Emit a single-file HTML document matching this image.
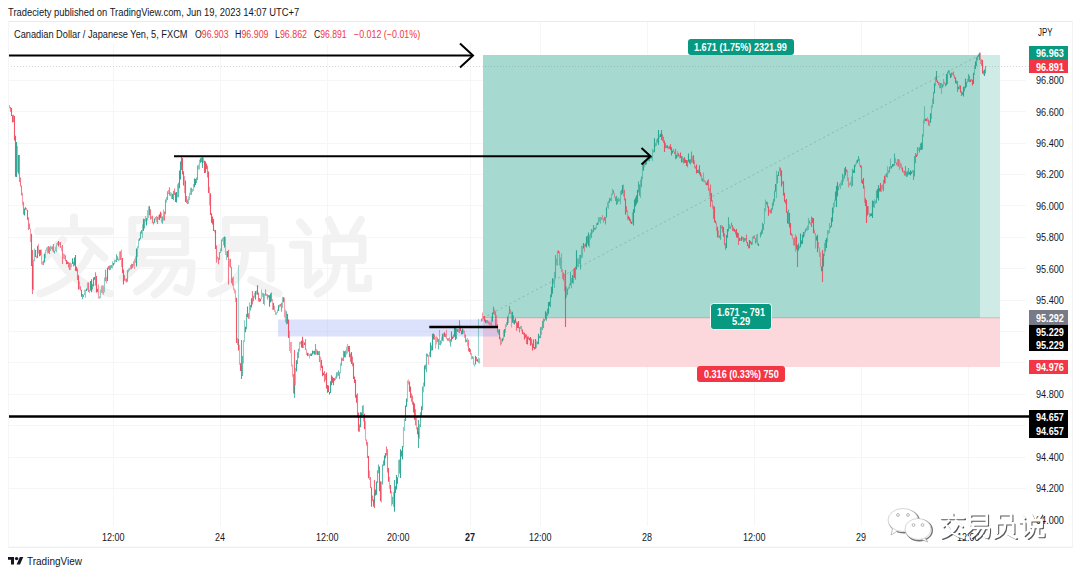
<!DOCTYPE html><html><head><meta charset="utf-8"><title>CADJPY</title><style>
*{margin:0;padding:0;box-sizing:border-box}
html,body{width:1080px;height:575px;background:#fff;overflow:hidden}
body{position:relative;font-family:"Liberation Sans",sans-serif;color:#131722}
.t{position:absolute;white-space:nowrap;line-height:1;transform-origin:0 0}
</style></head><body>
<svg width="1080" height="575" viewBox="0 0 1080 575" style="position:absolute;left:0;top:0"><path d="M113.5 44V526" stroke="#f5f6f8" stroke-width="1"/><path d="M220.5 44V526" stroke="#f5f6f8" stroke-width="1"/><path d="M327.5 44V526" stroke="#f5f6f8" stroke-width="1"/><path d="M470.5 44V526" stroke="#f5f6f8" stroke-width="1"/><path d="M540.5 22V526" stroke="#f5f6f8" stroke-width="1"/><path d="M647.5 22V526" stroke="#f5f6f8" stroke-width="1"/><path d="M754.5 22V526" stroke="#f5f6f8" stroke-width="1"/><path d="M861.5 22V526" stroke="#f5f6f8" stroke-width="1"/><path d="M968.5 22V526" stroke="#f5f6f8" stroke-width="1"/><path d="M9 80.5H1026" stroke="#f5f6f8" stroke-width="1"/><path d="M9 111.5H1026" stroke="#f5f6f8" stroke-width="1"/><path d="M9 143.5H1026" stroke="#f5f6f8" stroke-width="1"/><path d="M9 174.5H1026" stroke="#f5f6f8" stroke-width="1"/><path d="M9 205.5H1026" stroke="#f5f6f8" stroke-width="1"/><path d="M9 237.5H1026" stroke="#f5f6f8" stroke-width="1"/><path d="M9 268.5H1026" stroke="#f5f6f8" stroke-width="1"/><path d="M9 300.5H1026" stroke="#f5f6f8" stroke-width="1"/><path d="M9 331.5H1026" stroke="#f5f6f8" stroke-width="1"/><path d="M9 362.5H1026" stroke="#f5f6f8" stroke-width="1"/><path d="M9 394.5H1026" stroke="#f5f6f8" stroke-width="1"/><path d="M9 425.5H1026" stroke="#f5f6f8" stroke-width="1"/><path d="M9 457.5H1026" stroke="#f5f6f8" stroke-width="1"/><path d="M9 488.5H1026" stroke="#f5f6f8" stroke-width="1"/><path transform="translate(34.0 216.0) scale(0.8000)" d="M50 2V15 M5 19H95 M36 30L14 52 M64 30L88 52 M70 46C60 70 35 88 8 97 M28 50C40 72 65 90 95 97" fill="none" stroke="#f2f2f2" stroke-width="10.00" stroke-linecap="round" stroke-linejoin="round" /><path transform="translate(119.5 216.0) scale(0.8000)" d="M16 5H82V45H16Z M16 25H82 M30 48C24 60 15 70 4 77 M24 59H90C90 75 88 90 84 95L72 90 M52 59C46 74 36 86 22 94 M72 59C66 76 56 90 44 98" fill="none" stroke="#f2f2f2" stroke-width="10.00" stroke-linecap="round" stroke-linejoin="round" /><path transform="translate(205.0 216.0) scale(0.8000)" d="M26 5H74V30H26Z M18 40H82V78 M18 40V78 M50 47C50 62 45 85 8 97 M58 80L92 97" fill="none" stroke="#f2f2f2" stroke-width="10.00" stroke-linecap="round" stroke-linejoin="round" /><path transform="translate(290.5 216.0) scale(0.8000)" d="M12 8L22 20 M3 36H22V86L36 72 M48 5L56 22 M88 5L78 22 M45 28H90V55H45Z M58 55C58 75 52 88 34 97 M76 55V90H97V78" fill="none" stroke="#f2f2f2" stroke-width="10.00" stroke-linecap="round" stroke-linejoin="round" /><rect x="483" y="55" width="497" height="263" fill="#a6dad0"/><rect x="980" y="55" width="20" height="263" fill="#cfebe6"/><rect x="483" y="318" width="517" height="49" fill="#fcd7dc"/><path d="M483 317.8H1000" stroke="#808080" stroke-opacity="0.35" stroke-width="1"/><rect x="278" y="319.5" width="220" height="17" fill="#5f78f0" fill-opacity="0.21"/><path d="M8 66.5H1029" stroke="#7a7a7a" stroke-opacity="0.3" stroke-width="1" stroke-dasharray="1 2"/><path d="M483 318L979.5 55" stroke="#8fb5ae" stroke-width="1" stroke-dasharray="2 3"/><path d="M8.5 103.7V106.2M9.5 105.1V108.3M17.5 146.1V172.3M22.5 192.8V205.2M26.5 208.1V210.6M30.5 228.6V241.9M36.5 255.7V258.5M38.5 243.7V253.4M41.5 249.6V264.4M42.5 261.4V264.8M47.5 246.8V253.4M51.5 246.4V248.9M61.5 246.4V251.2M64.5 254.0V259.2M70.5 262.5V269.7M79.5 281.5V289.6M98.5 284.3V298.4M102.5 285.3V293.4M106.5 276.8V283.5M115.5 259.8V262.3M121.5 249.5V266.9M130.5 264.9V269.2M134.5 258.8V269.1M145.5 215.9V221.4M156.5 216.0V222.1M158.5 215.2V219.5M161.5 213.2V222.5M168.5 190.0V194.0M171.5 192.7V198.9M184.5 176.1V193.2M203.5 157.4V162.7M209.5 187.1V205.5M214.5 229.6V232.4M223.5 237.0V245.1M225.5 237.0V255.0M229.5 259.1V266.8M233.5 276.5V290.3M234.5 288.5V293.3M235.5 290.0V302.0M237.5 337.7V345.1M239.5 344.8V364.7M266.5 293.5V296.3M272.5 299.1V310.0M274.5 305.7V311.7M275.5 310.4V315.0M284.5 297.8V317.6M285.5 309.6V322.3M289.5 330.7V351.1M290.5 342.1V353.1M291.5 341.9V366.4M292.5 364.6V376.7M300.5 341.8V344.3M306.5 349.2V355.0M308.5 352.7V356.1M309.5 354.1V358.6M316.5 349.0V354.5M320.5 356.8V370.7M337.5 371.9V376.4M363.5 405.1V421.4M365.5 421.2V440.4M369.5 470.4V480.1M389.5 477.1V488.7M391.5 491.3V506.1M393.5 492.2V507.0M408.5 379.4V384.5M416.5 417.3V429.6M428.5 354.9V364.8M435.5 337.1V348.5M436.5 336.3V344.6M439.5 329.9V345.1M446.5 329.8V339.3M449.5 336.8V342.6M458.5 329.0V332.4M464.5 330.4V337.8M467.5 337.9V346.5M471.5 353.1V359.4M473.5 356.8V364.7M482.5 312.6V320.7M488.5 320.9V324.2M489.5 321.8V325.4M490.5 322.6V325.1M494.5 308.9V315.1M496.5 315.1V326.8M500.5 337.2V345.4M510.5 309.2V314.1M511.5 311.4V327.5M521.5 326.0V331.3M559.5 251.4V265.4M561.5 253.5V272.1M562.5 269.3V279.1M564.5 274.1V291.1M571.5 277.9V288.3M577.5 258.3V266.7M579.5 255.1V264.0M584.5 244.6V251.7M599.5 217.3V221.8M601.5 217.2V220.0M602.5 215.1V219.6M614.5 193.0V197.6M619.5 198.8V201.3M623.5 184.6V196.6M627.5 210.2V220.2M647.5 156.0V161.5M659.5 135.2V137.7M668.5 146.7V149.2M673.5 149.0V152.0M692.5 155.9V162.8M694.5 160.3V167.8M701.5 174.4V180.8M703.5 172.6V181.9M704.5 179.7V182.2M705.5 180.9V184.7M709.5 187.9V196.2M712.5 199.9V208.7M716.5 222.6V231.0M718.5 230.5V237.5M721.5 225.4V228.7M729.5 224.2V228.7M740.5 238.2V240.7M742.5 236.8V239.7M754.5 235.1V238.9M757.5 233.8V245.2M769.5 209.4V211.9M782.5 181.2V184.2M792.5 234.3V239.3M793.5 238.2V245.6M797.5 249.1V251.6M807.5 225.5V230.6M810.5 222.6V225.1M814.5 229.8V233.8M815.5 232.9V248.6M818.5 241.9V248.3M819.5 247.6V257.1M820.5 252.2V266.7M843.5 175.3V181.5M847.5 170.3V180.9M848.5 177.6V187.6M849.5 182.9V185.4M859.5 158.5V165.4M864.5 186.3V202.8M868.5 206.1V213.8M869.5 213.3V217.0M882.5 184.4V189.4M895.5 158.1V163.1M899.5 159.8V170.0M900.5 162.5V168.1M901.5 163.7V169.6M903.5 170.8V173.3M927.5 117.2V121.5M939.5 82.4V88.4M941.5 83.1V93.9M944.5 81.8V84.3M949.5 70.2V75.2M952.5 72.6V75.1M980.5 52.5V63.9" stroke="#ef4056" stroke-width="1.1" fill="none" opacity="0.5"/><path d="M10.5 107.0V111.8M19.5 155.1V182.0M20.5 177.5V186.4M21.5 185.6V195.4M23.5 201.8V214.5M28.5 217.5V230.0M29.5 223.6V229.1M32.5 264.7V294.0M48.5 245.9V253.0M52.5 246.5V250.8M53.5 243.9V252.2M60.5 242.1V247.8M62.5 244.9V263.9M65.5 255.2V261.3M68.5 262.1V267.5M73.5 261.8V266.6M77.5 268.5V279.9M80.5 286.2V290.5M88.5 282.5V292.1M95.5 272.3V285.5M108.5 265.9V269.3M111.5 265.0V267.7M117.5 256.2V260.0M120.5 251.3V260.0M124.5 275.0V280.8M126.5 278.6V282.5M132.5 263.9V267.9M150.5 209.2V219.5M152.5 215.7V223.1M164.5 211.5V220.6M169.5 187.2V195.6M174.5 188.5V195.1M186.5 195.9V203.0M187.5 199.5V204.0M191.5 187.7V194.7M201.5 157.5V162.1M207.5 165.8V177.4M216.5 245.5V262.4M218.5 257.7V264.2M228.5 249.8V284.6M230.5 258.8V267.8M231.5 266.7V283.2M232.5 277.8V285.4M248.5 313.2V318.7M252.5 290.9V304.4M258.5 292.5V301.4M263.5 293.2V304.1M267.5 294.2V299.4M271.5 292.6V301.6M280.5 304.1V306.6M293.5 374.0V393.3M305.5 339.1V350.0M313.5 351.0V353.5M319.5 351.1V362.1M324.5 371.0V382.3M342.5 358.2V360.7M345.5 350.4V357.6M350.5 353.4V361.8M352.5 356.6V366.2M357.5 393.2V417.4M366.5 439.6V445.5M367.5 442.1V458.0M370.5 476.9V488.0M372.5 495.4V501.1M386.5 446.6V455.6M387.5 449.3V472.5M399.5 459.6V473.5M411.5 393.4V401.8M412.5 395.6V404.7M415.5 409.3V425.3M425.5 364.6V369.4M427.5 353.7V356.7M431.5 345.4V350.7M434.5 334.5V339.8M437.5 337.5V342.0M448.5 338.3V340.8M465.5 334.5V342.2M468.5 339.8V351.3M470.5 349.2V354.6M476.5 356.9V360.9M487.5 320.2V322.7M495.5 311.2V326.5M497.5 324.3V332.3M513.5 315.6V323.5M516.5 321.5V330.8M519.5 327.0V332.5M526.5 334.3V344.0M528.5 336.4V339.4M531.5 338.7V344.7M537.5 341.7V344.3M539.5 335.8V338.3M563.5 272.5V280.4M587.5 235.8V243.8M604.5 216.8V220.8M613.5 190.3V193.4M615.5 196.7V200.9M617.5 198.4V203.9M624.5 189.7V200.4M626.5 206.3V212.3M630.5 218.9V223.3M639.5 184.4V195.8M657.5 138.2V142.4M662.5 134.4V141.0M663.5 136.8V143.0M665.5 142.9V148.3M674.5 151.4V153.9M675.5 148.7V159.3M695.5 166.3V168.8M708.5 179.3V190.7M710.5 184.4V206.9M713.5 205.4V219.1M722.5 225.5V232.5M724.5 233.3V245.2M725.5 243.2V249.7M732.5 225.1V230.9M733.5 227.3V231.3M735.5 229.9V234.3M738.5 233.1V245.1M743.5 237.3V242.3M745.5 238.0V240.5M746.5 234.4V242.8M748.5 244.8V248.4M755.5 238.2V243.5M767.5 201.8V207.6M770.5 209.7V213.6M780.5 167.7V176.2M785.5 200.1V203.8M791.5 232.9V236.0M794.5 237.7V245.4M809.5 220.6V223.6M846.5 169.2V172.3M861.5 165.8V183.1M873.5 201.0V207.2M893.5 164.1V166.6M896.5 162.6V165.1M898.5 158.9V166.4M904.5 170.8V175.6M905.5 166.1V175.8M907.5 171.3V176.4M913.5 170.2V180.0M928.5 119.5V125.5M936.5 75.8V81.8M938.5 82.1V85.3M945.5 83.2V86.5M953.5 71.6V75.8M954.5 75.3V78.8M957.5 80.9V92.0M961.5 91.2V96.0M969.5 75.7V82.3M981.5 59.2V65.7M983.5 70.4V74.4" stroke="#ef4056" stroke-width="1.1" fill="none" opacity="0.7"/><path d="M32.5 250.0V289.0M294.5 350.0V394.0M797.5 245.0V267.0M822.5 250.0V282.0M374.5 480.0V508.0" stroke="#ef4056" stroke-width="1.1" fill="none" opacity="0.8"/><path d="M565.5 270.0V327.0" stroke="#ef4056" stroke-width="1.1" fill="none" opacity="0.85"/><path d="M11.5 108.0V116.1M12.5 115.3V122.5M14.5 116.1V140.5M15.5 135.8V176.7M27.5 209.9V219.7M31.5 233.8V266.0M35.5 250.1V256.9M40.5 249.7V255.4M58.5 241.1V246.5M66.5 260.0V264.2M75.5 254.9V270.8M76.5 266.8V271.3M78.5 275.2V289.5M81.5 289.7V296.7M91.5 279.3V292.3M96.5 275.9V292.6M113.5 262.9V265.4M122.5 258.1V272.9M123.5 269.6V284.4M149.5 206.2V215.2M160.5 211.7V217.9M175.5 192.5V202.0M182.5 158.0V174.5M183.5 171.2V185.4M185.5 180.4V201.9M195.5 179.0V184.9M204.5 160.7V173.0M206.5 163.4V168.9M208.5 171.6V193.0M210.5 193.3V215.0M211.5 213.2V222.8M212.5 216.4V224.5M213.5 218.9V231.1M215.5 230.1V248.9M236.5 297.8V342.9M238.5 339.0V350.5M240.5 363.2V370.9M245.5 326.8V332.2M255.5 290.9V299.6M257.5 285.3V294.8M260.5 298.7V301.2M269.5 295.2V306.7M283.5 297.3V302.3M287.5 314.0V323.8M288.5 319.5V338.1M302.5 336.8V348.0M304.5 342.6V345.1M311.5 353.5V356.0M317.5 350.4V354.9M321.5 359.7V368.1M322.5 365.8V376.2M326.5 372.4V388.4M328.5 385.6V392.1M329.5 392.0V394.5M332.5 376.7V382.8M334.5 378.2V380.7M348.5 346.1V351.5M349.5 345.9V357.3M353.5 362.8V378.9M354.5 376.4V383.1M355.5 379.4V397.8M356.5 394.7V402.8M358.5 412.4V431.5M361.5 412.5V417.9M364.5 413.8V429.2M368.5 456.1V478.3M371.5 487.3V506.8M373.5 499.5V506.4M375.5 489.4V495.4M379.5 466.6V491.2M380.5 481.2V501.2M388.5 468.0V481.7M390.5 485.0V493.2M409.5 381.5V391.8M410.5 386.4V397.9M413.5 401.8V412.6M414.5 403.6V419.7M417.5 427.2V434.3M418.5 431.7V437.2M444.5 332.3V336.8M452.5 336.5V339.0M455.5 326.8V339.9M460.5 325.7V331.1M461.5 330.5V334.4M469.5 348.0V351.9M477.5 359.3V361.8M484.5 315.9V321.5M499.5 329.3V339.3M515.5 318.2V322.8M518.5 321.1V328.3M522.5 329.5V334.1M524.5 332.8V339.6M525.5 334.6V337.8M530.5 337.1V345.7M532.5 343.5V350.5M533.5 339.5V348.1M534.5 347.0V349.5M549.5 301.7V306.0M558.5 250.4V253.2M565.5 286.6V299.0M574.5 267.9V278.1M585.5 243.4V246.6M625.5 198.5V214.8M628.5 215.7V219.2M629.5 217.3V220.9M631.5 221.6V224.1M645.5 160.3V164.9M651.5 156.0V158.5M661.5 133.5V136.0M664.5 140.5V151.9M667.5 145.2V148.2M669.5 146.3V148.8M670.5 144.2V150.1M671.5 147.2V155.5M678.5 153.2V156.2M680.5 152.5V158.0M681.5 156.3V162.5M684.5 157.3V162.7M686.5 160.0V166.1M689.5 159.5V163.3M693.5 155.2V164.1M696.5 164.5V173.5M697.5 169.9V172.9M699.5 165.3V174.4M700.5 172.2V176.5M706.5 182.7V185.2M711.5 192.9V201.6M714.5 206.8V222.2M715.5 220.4V223.2M717.5 226.8V237.4M723.5 226.9V236.7M734.5 228.7V231.7M736.5 229.0V237.5M747.5 242.1V246.1M750.5 240.9V243.4M751.5 242.3V244.8M768.5 206.2V215.8M781.5 170.2V186.6M783.5 181.2V195.5M784.5 192.8V201.9M786.5 198.9V212.8M787.5 211.7V223.4M789.5 213.1V227.6M790.5 223.0V234.8M796.5 236.4V249.6M801.5 240.6V244.3M812.5 217.7V223.1M813.5 217.9V233.3M817.5 234.7V252.3M821.5 266.6V271.2M837.5 181.9V196.4M845.5 166.8V175.6M860.5 165.1V167.6M862.5 179.7V184.0M863.5 178.0V188.6M865.5 198.2V206.1M866.5 200.0V223.0M877.5 188.9V198.1M880.5 183.1V191.4M884.5 175.8V183.5M902.5 167.5V171.7M909.5 172.1V174.6M916.5 154.6V157.1M925.5 118.5V121.0M926.5 118.7V121.2M937.5 80.4V82.9M955.5 77.2V83.3M960.5 85.6V92.4M970.5 79.6V82.1M972.5 79.7V85.5M982.5 59.9V73.4" stroke="#ef4056" stroke-width="1.1" fill="none" opacity="0.9"/><path d="M238.5 265.0V345.0" stroke="#1f9e8a" stroke-width="1.1" fill="none" opacity="0.4"/><path d="M478.5 319.0V356.0" stroke="#1f9e8a" stroke-width="1.1" fill="none" opacity="0.45"/><path d="M33.5 259.4V290.0M34.5 248.4V261.4M45.5 250.0V258.3M46.5 247.6V250.8M50.5 245.5V251.0M55.5 246.8V251.1M56.5 243.3V252.3M57.5 242.2V244.7M59.5 242.2V244.7M63.5 253.6V258.8M71.5 263.4V267.2M84.5 289.6V295.0M85.5 289.7V297.7M87.5 282.6V290.3M89.5 289.7V293.3M99.5 296.3V298.8M100.5 289.7V297.9M101.5 285.4V292.8M103.5 285.5V294.7M104.5 277.5V292.3M112.5 261.3V268.5M114.5 259.5V264.2M118.5 258.6V261.1M119.5 251.5V260.5M125.5 278.9V281.4M128.5 268.6V272.3M129.5 268.0V270.8M133.5 260.9V266.3M135.5 256.2V262.7M137.5 246.2V256.9M138.5 239.4V248.2M142.5 224.3V238.1M147.5 210.0V220.5M148.5 206.3V217.7M151.5 216.2V218.9M155.5 217.1V219.6M163.5 209.5V220.7M166.5 196.9V202.4M170.5 192.2V196.2M177.5 184.3V197.4M181.5 159.1V164.5M188.5 196.6V204.0M189.5 192.7V200.0M190.5 187.8V195.1M192.5 189.0V192.1M193.5 184.1V190.9M198.5 164.6V169.6M199.5 159.7V169.4M217.5 256.6V259.1M220.5 248.4V252.9M222.5 237.9V241.2M226.5 251.5V260.3M241.5 366.1V370.9M243.5 340.3V363.4M244.5 320.2V342.0M249.5 302.3V318.8M254.5 292.7V297.4M256.5 290.4V294.6M261.5 289.4V299.3M262.5 292.6V296.7M264.5 293.8V305.4M276.5 312.2V314.7M277.5 309.5V313.0M279.5 304.2V307.4M282.5 296.7V308.1M295.5 367.9V385.2M299.5 341.7V351.4M303.5 340.7V348.0M335.5 376.6V380.0M340.5 363.3V373.3M346.5 346.7V354.6M347.5 344.0V353.5M381.5 481.6V502.6M398.5 460.0V477.5M403.5 427.1V447.3M404.5 418.8V430.9M407.5 380.5V402.0M419.5 424.2V438.8M423.5 382.5V392.3M429.5 351.7V356.5M441.5 336.8V343.7M443.5 333.1V341.6M463.5 329.5V333.5M474.5 363.7V366.4M478.5 357.6V363.3M479.5 358.2V363.6M483.5 316.2V319.6M486.5 320.1V323.4M491.5 316.5V326.3M501.5 339.1V344.3M503.5 330.3V340.2M505.5 324.3V332.8M506.5 321.9V326.9M508.5 313.6V322.9M520.5 325.9V329.0M536.5 340.8V348.1M541.5 326.7V334.7M553.5 278.7V283.7M554.5 272.0V288.1M556.5 258.6V264.9M557.5 250.8V265.7M560.5 257.5V269.0M566.5 286.5V297.3M568.5 286.8V289.6M569.5 283.6V288.4M573.5 268.4V284.1M578.5 258.5V267.1M581.5 245.5V258.4M582.5 246.2V257.4M589.5 234.9V247.7M590.5 232.6V239.6M592.5 229.8V233.3M595.5 227.4V229.9M596.5 223.2V228.5M598.5 217.3V224.4M600.5 217.0V223.7M603.5 217.9V222.8M607.5 202.2V207.4M608.5 200.8V208.8M611.5 193.4V201.6M612.5 188.8V195.0M618.5 197.6V201.9M620.5 191.0V204.6M632.5 212.2V223.4M640.5 179.6V198.0M642.5 165.3V179.3M644.5 160.1V167.3M648.5 154.1V161.3M652.5 149.0V161.1M653.5 149.9V152.4M655.5 142.9V146.4M656.5 139.6V146.0M677.5 151.3V157.2M679.5 154.8V158.3M682.5 155.9V162.3M752.5 236.8V244.7M756.5 234.6V242.8M764.5 208.1V224.1M765.5 199.4V211.4M776.5 170.8V197.9M779.5 166.9V171.8M795.5 234.1V251.8M799.5 246.1V248.6M804.5 231.3V236.2M806.5 227.6V230.8M808.5 217.8V229.8M822.5 257.4V271.1M824.5 243.1V256.0M827.5 230.1V242.0M828.5 230.3V234.3M829.5 223.0V232.9M833.5 202.8V213.3M834.5 199.7V207.6M839.5 183.7V186.7M840.5 182.6V188.9M841.5 180.1V185.8M850.5 181.4V185.0M851.5 176.4V187.2M855.5 163.6V167.1M856.5 160.2V164.5M874.5 199.3V207.9M875.5 200.6V204.0M881.5 185.0V192.0M885.5 174.3V183.6M887.5 166.3V177.8M888.5 170.3V173.7M890.5 158.6V168.7M897.5 159.3V166.8M912.5 170.0V172.5M918.5 148.3V150.8M923.5 119.6V136.5M924.5 106.2V123.5M929.5 120.6V126.3M931.5 104.9V118.9M932.5 98.5V108.1M935.5 76.6V85.9M943.5 78.9V86.5M959.5 85.1V89.2M967.5 79.0V82.8M971.5 78.7V81.2M974.5 65.4V75.0M979.5 52.5V55.9" stroke="#1f9e8a" stroke-width="1.1" fill="none" opacity="0.5"/><path d="M13.5 114.7V122.0M43.5 260.8V265.0M49.5 246.8V253.9M54.5 250.7V253.5M69.5 262.8V269.9M82.5 294.0V299.2M83.5 294.5V297.0M92.5 284.2V289.5M105.5 269.4V281.3M109.5 265.5V270.2M110.5 265.6V269.7M116.5 254.3V262.1M127.5 270.3V281.7M131.5 263.7V269.3M140.5 231.6V239.2M141.5 230.1V233.7M144.5 219.0V228.5M153.5 222.0V224.5M157.5 217.0V223.9M162.5 216.6V223.8M165.5 199.4V214.2M167.5 191.3V200.1M173.5 191.1V200.2M178.5 182.7V197.3M196.5 177.4V183.0M197.5 165.4V180.1M202.5 158.3V162.9M219.5 252.0V260.0M221.5 239.4V251.3M242.5 356.0V376.0M246.5 314.1V329.2M250.5 305.0V310.6M253.5 295.8V301.3M259.5 298.0V301.9M265.5 289.5V295.7M268.5 294.9V297.6M281.5 302.8V311.7M286.5 311.3V324.2M294.5 384.8V398.1M297.5 352.3V364.1M298.5 348.7V357.9M310.5 353.5V356.0M315.5 344.0V355.1M318.5 351.3V355.1M325.5 374.0V380.2M336.5 372.6V378.5M338.5 370.5V375.7M339.5 372.2V379.1M341.5 357.4V365.7M343.5 350.7V361.1M359.5 424.5V431.8M362.5 405.8V415.9M374.5 492.7V502.4M377.5 470.2V482.9M378.5 464.6V473.2M382.5 464.5V484.4M383.5 460.4V466.0M392.5 496.7V504.3M420.5 412.3V427.1M422.5 386.5V410.1M426.5 353.6V372.2M438.5 339.1V349.2M440.5 340.6V345.3M445.5 333.8V337.2M447.5 338.3V340.8M450.5 339.2V346.6M453.5 334.6V338.0M456.5 328.5V338.9M459.5 320.3V333.2M466.5 339.4V342.1M472.5 356.3V358.8M481.5 318.5V321.6M493.5 306.4V313.9M498.5 329.4V334.6M509.5 306.1V314.0M523.5 332.2V334.7M540.5 327.2V338.3M542.5 320.7V329.9M543.5 318.5V327.9M544.5 319.1V321.6M546.5 312.6V320.7M547.5 308.7V316.1M550.5 294.4V307.3M555.5 255.1V278.4M567.5 288.6V294.9M570.5 271.7V285.4M575.5 266.5V279.7M580.5 254.7V269.4M591.5 228.9V237.7M593.5 224.9V231.9M594.5 227.4V229.9M605.5 217.0V224.4M609.5 197.8V203.0M610.5 198.2V200.7M616.5 195.7V204.9M621.5 189.8V195.0M638.5 181.6V192.6M641.5 176.5V187.2M646.5 158.6V164.6M649.5 157.2V161.3M650.5 156.2V158.7M666.5 145.4V147.9M683.5 158.3V163.4M687.5 160.2V167.3M690.5 159.2V164.6M691.5 151.6V162.4M698.5 169.4V173.0M702.5 178.2V181.4M719.5 235.5V238.1M720.5 225.0V239.7M728.5 217.3V231.6M730.5 226.3V228.8M731.5 222.6V226.5M744.5 237.9V241.4M753.5 235.9V238.4M760.5 232.2V237.5M761.5 229.7V234.9M762.5 222.7V233.5M763.5 224.0V229.9M766.5 201.7V204.7M771.5 208.1V213.2M772.5 202.5V209.7M773.5 199.0V205.7M774.5 190.7V201.7M777.5 174.9V183.5M788.5 209.5V223.9M805.5 228.8V232.5M811.5 216.4V227.0M825.5 240.0V251.4M830.5 225.8V228.3M838.5 186.4V190.3M842.5 173.7V184.9M844.5 168.2V178.4M852.5 168.7V186.1M858.5 156.1V160.9M876.5 190.6V202.9M883.5 180.0V191.3M886.5 173.0V177.0M889.5 166.5V172.5M894.5 153.6V165.7M906.5 171.4V177.0M908.5 168.1V174.8M914.5 155.9V176.5M915.5 153.1V163.3M917.5 147.1V155.8M919.5 147.1V152.6M920.5 143.6V150.1M922.5 134.3V149.3M933.5 91.9V104.0M940.5 83.0V87.9M942.5 84.3V87.7M947.5 72.3V84.0M948.5 70.2V73.3M951.5 72.4V77.3M956.5 80.4V83.9M964.5 86.6V91.6M966.5 82.0V87.1M968.5 74.1V81.4M976.5 57.2V65.9M977.5 55.8V60.5M978.5 54.3V57.1M985.5 66.1V73.5" stroke="#1f9e8a" stroke-width="1.1" fill="none" opacity="0.7"/><path d="M241.5 340.0V379.0M418.5 420.0V448.0M394.5 480.0V506.0M661.5 130.0V140.0M979.5 53.0V60.0M936.5 71.0V80.0M181.5 157.0V170.0M202.5 157.0V168.0" stroke="#1f9e8a" stroke-width="1.1" fill="none" opacity="0.8"/><path d="M16.5 142.0V176.9M18.5 155.0V173.8M24.5 208.4V215.5M25.5 207.2V209.8M37.5 245.8V258.1M39.5 249.8V256.2M44.5 253.7V262.5M67.5 261.6V264.1M72.5 258.2V263.9M74.5 257.4V265.5M86.5 288.5V291.0M90.5 281.1V290.5M93.5 277.6V286.2M94.5 277.0V279.7M97.5 288.8V292.1M107.5 267.4V281.0M136.5 248.5V266.4M139.5 238.3V240.8M143.5 218.8V230.9M146.5 218.1V225.4M154.5 218.6V222.7M159.5 214.2V219.9M172.5 194.0V199.1M176.5 192.0V202.5M179.5 170.6V188.3M180.5 161.4V179.5M194.5 178.6V187.2M200.5 158.2V162.7M205.5 161.6V172.7M224.5 236.5V247.4M227.5 251.1V257.3M247.5 306.4V317.3M251.5 298.3V307.5M270.5 293.6V302.6M273.5 302.9V309.8M278.5 305.2V311.0M296.5 360.3V371.4M301.5 340.8V347.5M307.5 352.7V355.9M312.5 350.5V354.6M314.5 350.8V354.6M323.5 372.8V375.3M327.5 385.1V392.8M330.5 381.3V392.9M331.5 375.3V385.2M333.5 378.0V385.3M344.5 351.2V357.2M351.5 352.1V363.9M360.5 412.2V427.2M376.5 481.6V494.8M384.5 455.5V465.6M385.5 452.9V458.2M394.5 491.2V511.8M395.5 486.3V493.1M396.5 475.0V489.5M397.5 477.2V483.7M400.5 449.2V477.9M401.5 450.7V456.6M402.5 446.0V459.4M405.5 405.4V421.0M406.5 398.4V406.7M421.5 406.3V415.8M424.5 365.5V386.6M430.5 342.4V357.2M432.5 333.7V350.3M433.5 333.6V339.5M442.5 333.7V340.8M451.5 331.6V341.6M454.5 326.9V336.8M457.5 329.2V331.7M462.5 328.5V334.2M475.5 355.7V364.6M485.5 319.4V323.1M492.5 312.8V321.6M502.5 338.3V341.5M504.5 328.9V336.7M507.5 316.5V325.1M512.5 311.8V322.8M514.5 319.8V324.5M517.5 322.4V327.9M527.5 336.4V344.5M529.5 338.0V340.5M535.5 338.9V348.7M538.5 333.7V344.2M545.5 311.3V319.5M548.5 302.0V313.8M551.5 286.8V297.3M552.5 278.2V293.8M572.5 275.0V282.9M576.5 250.2V269.4M583.5 243.0V248.6M586.5 236.5V247.5M588.5 232.6V246.0M597.5 222.6V225.1M606.5 207.2V217.6M622.5 185.1V193.5M633.5 209.2V225.5M634.5 199.6V212.7M635.5 197.6V206.6M636.5 195.2V204.6M637.5 190.1V202.4M643.5 162.7V170.7M654.5 138.3V152.3M658.5 129.9V144.8M660.5 133.7V137.0M672.5 150.6V153.2M676.5 154.8V158.4M685.5 159.6V162.9M688.5 153.6V161.8M707.5 180.6V185.2M726.5 235.1V247.9M727.5 228.9V237.8M737.5 232.6V237.7M739.5 238.0V241.0M741.5 236.6V241.0M749.5 239.9V248.3M758.5 243.5V246.0M775.5 183.9V191.5M778.5 171.4V176.1M798.5 243.4V250.5M800.5 233.4V247.2M802.5 234.8V243.7M803.5 232.0V237.5M816.5 236.3V240.4M823.5 253.6V266.6M826.5 238.0V248.0M831.5 217.5V226.8M832.5 207.5V221.7M835.5 191.4V200.5M836.5 185.8V207.0M853.5 170.3V172.8M854.5 164.8V172.9M857.5 159.4V163.0M867.5 205.9V215.4M870.5 213.6V216.2M871.5 213.3V215.9M872.5 200.6V218.0M878.5 185.2V200.5M879.5 188.0V191.4M891.5 166.0V168.5M892.5 164.1V166.8M910.5 170.2V175.4M911.5 171.6V174.1M921.5 142.4V150.0M930.5 113.3V122.7M934.5 83.2V93.3M946.5 74.1V85.2M950.5 73.6V78.0M958.5 86.8V89.3M962.5 92.3V94.8M963.5 86.8V96.5M965.5 78.4V88.3M973.5 72.8V83.9M975.5 61.2V69.0M984.5 69.6V75.9" stroke="#1f9e8a" stroke-width="1.1" fill="none" opacity="0.9"/><path d="M8 55.5H472" stroke="#000" stroke-width="2" fill="none"/><path d="M460 43.5L473 55.5L460 67.5" stroke="#000" stroke-width="2" fill="none"/><path d="M174 156.2H649.5" stroke="#000" stroke-width="2" fill="none"/><path d="M641.5 148L650.5 156.2L641.5 164.4" stroke="#000" stroke-width="2" fill="none"/><path d="M429.3 327H498" stroke="#000" stroke-width="2.6" fill="none"/><path d="M8 416.6H1029" stroke="#000" stroke-width="2.5" fill="none"/><path d="M8 21.5H1073" stroke="#e8eaee" stroke-width="1"/><path d="M8 547.2H1073" stroke="#e8eaee" stroke-width="1"/><path d="M8.5 21V547" stroke="#f4f5f7" stroke-width="1"/><path d="M1072.5 21V547" stroke="#f3f4f6" stroke-width="1"/><g transform="translate(8 555.3) scale(0.43 0.415)" fill="#131722"><path d="M14 22H7V11H0V4h14v18zM28 22h-8l7.5-18h8L28 22z"/><circle cx="20" cy="8" r="4"/></g></svg>
<div style="position:absolute;left:1029px;top:45.5px;width:39px;height:14.1px;background:#089981"></div>
<div style="position:absolute;left:1029px;top:59.6px;width:39px;height:13.8px;background:#f23645"></div>
<div style="position:absolute;left:1029px;top:310.3px;width:39px;height:14.5px;background:#787b86"></div>
<div style="position:absolute;left:1029px;top:324.8px;width:39px;height:26.5px;background:#000"></div>
<div style="position:absolute;left:1029px;top:360.2px;width:39px;height:13.4px;background:#f23645"></div>
<div style="position:absolute;left:1029px;top:409.8px;width:39px;height:27.8px;background:#000"></div>
<div style="position:absolute;left:688px;top:38.8px;width:105.5px;height:16.2px;background:#089981;border-radius:3px"></div>
<div style="position:absolute;left:709.5px;top:303px;width:62.5px;height:27px;background:#089981;border:1px solid #fff;border-radius:3.5px"></div>
<div style="position:absolute;left:697px;top:366.3px;width:88px;height:16px;background:#f23645;border-radius:3px"></div>
<div class="t" style="left:8.10px;top:7.90px;font-size:10px;color:#131722;transform:scaleX(0.9383);">Tradeciety published on TradingView.com, Jun 19, 2023 14:07 UTC+7</div>
<div class="t" style="left:14.30px;top:29.50px;font-size:10px;color:#131722;transform:scaleX(0.9234);">Canadian Dollar / Japanese Yen, 5, FXCM</div>
<div class="t" style="left:194.80px;top:29.50px;font-size:10px;color:#131722;transform:scaleX(0.8730);">O<span style="color:#f23645">96.903</span></div>
<div class="t" style="left:235.40px;top:29.50px;font-size:10px;color:#131722;transform:scaleX(0.8856);">H<span style="color:#f23645">96.909</span></div>
<div class="t" style="left:275.40px;top:29.50px;font-size:10px;color:#131722;transform:scaleX(0.8850);">L<span style="color:#f23645">96.862</span></div>
<div class="t" style="left:313.90px;top:29.50px;font-size:10px;color:#131722;transform:scaleX(0.8618);">C<span style="color:#f23645">96.891</span></div>
<div class="t" style="left:353.90px;top:29.50px;font-size:10px;color:#f23645;transform:scaleX(0.8872);">−0.012 (−0.01%)</div>
<div class="t" style="left:1038.00px;top:28.10px;font-size:10px;color:#131722;transform:scaleX(0.7905);">JPY</div>
<div class="t" style="left:1036.00px;top:76.20px;font-size:10px;color:#131722;transform:scaleX(0.9120);">96.800</div>
<div class="t" style="left:1036.00px;top:107.60px;font-size:10px;color:#131722;transform:scaleX(0.9120);">96.600</div>
<div class="t" style="left:1036.00px;top:139.00px;font-size:10px;color:#131722;transform:scaleX(0.9120);">96.400</div>
<div class="t" style="left:1036.00px;top:170.40px;font-size:10px;color:#131722;transform:scaleX(0.9120);">96.200</div>
<div class="t" style="left:1036.00px;top:201.80px;font-size:10px;color:#131722;transform:scaleX(0.9120);">96.000</div>
<div class="t" style="left:1036.00px;top:233.20px;font-size:10px;color:#131722;transform:scaleX(0.9120);">95.800</div>
<div class="t" style="left:1036.00px;top:264.60px;font-size:10px;color:#131722;transform:scaleX(0.9120);">95.600</div>
<div class="t" style="left:1036.00px;top:296.00px;font-size:10px;color:#131722;transform:scaleX(0.9120);">95.400</div>
<div class="t" style="left:1036.00px;top:390.20px;font-size:10px;color:#131722;transform:scaleX(0.9120);">94.800</div>
<div class="t" style="left:1036.00px;top:453.00px;font-size:10px;color:#131722;transform:scaleX(0.9120);">94.400</div>
<div class="t" style="left:1036.00px;top:484.40px;font-size:10px;color:#131722;transform:scaleX(0.9120);">94.200</div>
<div class="t" style="left:1036.00px;top:515.80px;font-size:10px;color:#131722;transform:scaleX(0.9120);">94.000</div>
<div class="t" style="left:101.75px;top:532.60px;font-size:10px;color:#131722;transform:scaleX(0.8989);">12:00</div>
<div class="t" style="left:215.00px;top:532.60px;font-size:10px;color:#131722;transform:scaleX(0.8989);">24</div>
<div class="t" style="left:315.75px;top:532.60px;font-size:10px;color:#131722;transform:scaleX(0.8989);">12:00</div>
<div class="t" style="left:387.25px;top:532.60px;font-size:10px;color:#131722;transform:scaleX(0.8989);">20:00</div>
<div class="t" style="left:465.00px;top:532.60px;font-size:10px;color:#131722;font-weight:bold;transform:scaleX(0.8989);">27</div>
<div class="t" style="left:528.75px;top:532.60px;font-size:10px;color:#131722;transform:scaleX(0.8989);">12:00</div>
<div class="t" style="left:642.00px;top:532.60px;font-size:10px;color:#131722;transform:scaleX(0.8989);">28</div>
<div class="t" style="left:742.75px;top:532.60px;font-size:10px;color:#131722;transform:scaleX(0.8989);">12:00</div>
<div class="t" style="left:856.00px;top:532.60px;font-size:10px;color:#131722;transform:scaleX(0.8989);">29</div>
<div class="t" style="left:956.75px;top:532.60px;font-size:10px;color:#131722;transform:scaleX(0.8989);">12:00</div>
<div class="t" style="left:26.80px;top:557.30px;font-size:10px;color:#131722;transform:scaleX(0.9994);">TradingView</div>
<div class="t" style="left:1036.00px;top:48.85px;font-size:10px;color:#fff;font-weight:bold;transform:scaleX(0.9087);">96.963</div>
<div class="t" style="left:1036.00px;top:62.80px;font-size:10px;color:#fff;font-weight:bold;transform:scaleX(0.9087);">96.891</div>
<div class="t" style="left:1036.00px;top:313.85px;font-size:10px;color:#fff;font-weight:bold;transform:scaleX(0.9087);">95.292</div>
<div class="t" style="left:1036.00px;top:327.73px;font-size:10px;color:#fff;font-weight:bold;transform:scaleX(0.9087);">95.229</div>
<div class="t" style="left:1036.00px;top:340.98px;font-size:10px;color:#fff;font-weight:bold;transform:scaleX(0.9087);">95.229</div>
<div class="t" style="left:1036.00px;top:363.20px;font-size:10px;color:#fff;font-weight:bold;transform:scaleX(0.9087);">94.976</div>
<div class="t" style="left:1036.00px;top:413.05px;font-size:10px;color:#fff;font-weight:bold;transform:scaleX(0.9087);">94.657</div>
<div class="t" style="left:1036.00px;top:426.95px;font-size:10px;color:#fff;font-weight:bold;transform:scaleX(0.9087);">94.657</div>
<div class="t" style="left:694.40px;top:42.85px;font-size:10px;color:#fff;font-weight:bold;transform:scaleX(0.9130);">1.671 (1.75%) 2321.99</div>
<div class="t" style="left:716.80px;top:308.00px;font-size:10px;color:#fff;font-weight:bold;transform:scaleX(0.9019);">1.671 ~ 791</div>
<div class="t" style="left:731.80px;top:317.25px;font-size:10px;color:#fff;font-weight:bold;transform:scaleX(0.9348);">5.29</div>
<div class="t" style="left:703.60px;top:370.40px;font-size:10px;color:#fff;font-weight:bold;transform:scaleX(0.9079);">0.316 (0.33%) 750</div>
<svg width="1080" height="575" viewBox="0 0 1080 575" style="position:absolute;left:0;top:0"><g transform="translate(1.3 1.3)" opacity="0.8"><ellipse cx="903" cy="520" rx="15" ry="11.5" fill="none" stroke="#555" stroke-width="1.4"/><ellipse cx="918" cy="529" rx="13" ry="10.5" fill="none" stroke="#555" stroke-width="1.4"/><path transform="translate(939.5 513.0) scale(0.2550)" d="M50 2V15 M5 19H95 M36 30L14 52 M64 30L88 52 M70 46C60 70 35 88 8 97 M28 50C40 72 65 90 95 97" fill="none" stroke="#2e2e2e" stroke-width="7.84" stroke-linecap="round" stroke-linejoin="round" /><path transform="translate(965.9 513.0) scale(0.2550)" d="M16 5H82V45H16Z M16 25H82 M30 48C24 60 15 70 4 77 M24 59H90C90 75 88 90 84 95L72 90 M52 59C46 74 36 86 22 94 M72 59C66 76 56 90 44 98" fill="none" stroke="#2e2e2e" stroke-width="7.84" stroke-linecap="round" stroke-linejoin="round" /><path transform="translate(992.3 513.0) scale(0.2550)" d="M26 5H74V30H26Z M18 40H82V78 M18 40V78 M50 47C50 62 45 85 8 97 M58 80L92 97" fill="none" stroke="#2e2e2e" stroke-width="7.84" stroke-linecap="round" stroke-linejoin="round" /><path transform="translate(1018.7 513.0) scale(0.2550)" d="M12 8L22 20 M3 36H22V86L36 72 M48 5L56 22 M88 5L78 22 M45 28H90V55H45Z M58 55C58 75 52 88 34 97 M76 55V90H97V78" fill="none" stroke="#2e2e2e" stroke-width="7.84" stroke-linecap="round" stroke-linejoin="round" /></g><path d="M893 527L891 535L899 530Z" fill="#fff" stroke="#999" stroke-width="0.6"/><ellipse cx="903" cy="520" rx="15" ry="11.5" fill="#fff" stroke="#bbb" stroke-width="0.6"/><path d="M924 537L928 542L920 539Z" fill="#fff" stroke="#999" stroke-width="0.6"/><ellipse cx="918" cy="529" rx="13" ry="10.5" fill="#fff" stroke="#bbb" stroke-width="0.6"/><circle cx="898" cy="515" r="1.4" fill="#fff" stroke="#999" stroke-width="0.7"/><circle cx="908" cy="515" r="1.4" fill="#fff" stroke="#999" stroke-width="0.7"/><circle cx="913.5" cy="525" r="1.4" fill="#fff" stroke="#999" stroke-width="0.7"/><circle cx="922.5" cy="525" r="1.4" fill="#fff" stroke="#999" stroke-width="0.7"/><path transform="translate(939.5 513.0) scale(0.2550)" d="M50 2V15 M5 19H95 M36 30L14 52 M64 30L88 52 M70 46C60 70 35 88 8 97 M28 50C40 72 65 90 95 97" fill="none" stroke="#fff" stroke-width="10.20" stroke-linecap="round" stroke-linejoin="round" /><path transform="translate(965.9 513.0) scale(0.2550)" d="M16 5H82V45H16Z M16 25H82 M30 48C24 60 15 70 4 77 M24 59H90C90 75 88 90 84 95L72 90 M52 59C46 74 36 86 22 94 M72 59C66 76 56 90 44 98" fill="none" stroke="#fff" stroke-width="10.20" stroke-linecap="round" stroke-linejoin="round" /><path transform="translate(992.3 513.0) scale(0.2550)" d="M26 5H74V30H26Z M18 40H82V78 M18 40V78 M50 47C50 62 45 85 8 97 M58 80L92 97" fill="none" stroke="#fff" stroke-width="10.20" stroke-linecap="round" stroke-linejoin="round" /><path transform="translate(1018.7 513.0) scale(0.2550)" d="M12 8L22 20 M3 36H22V86L36 72 M48 5L56 22 M88 5L78 22 M45 28H90V55H45Z M58 55C58 75 52 88 34 97 M76 55V90H97V78" fill="none" stroke="#fff" stroke-width="10.20" stroke-linecap="round" stroke-linejoin="round" /></svg>
</body></html>
